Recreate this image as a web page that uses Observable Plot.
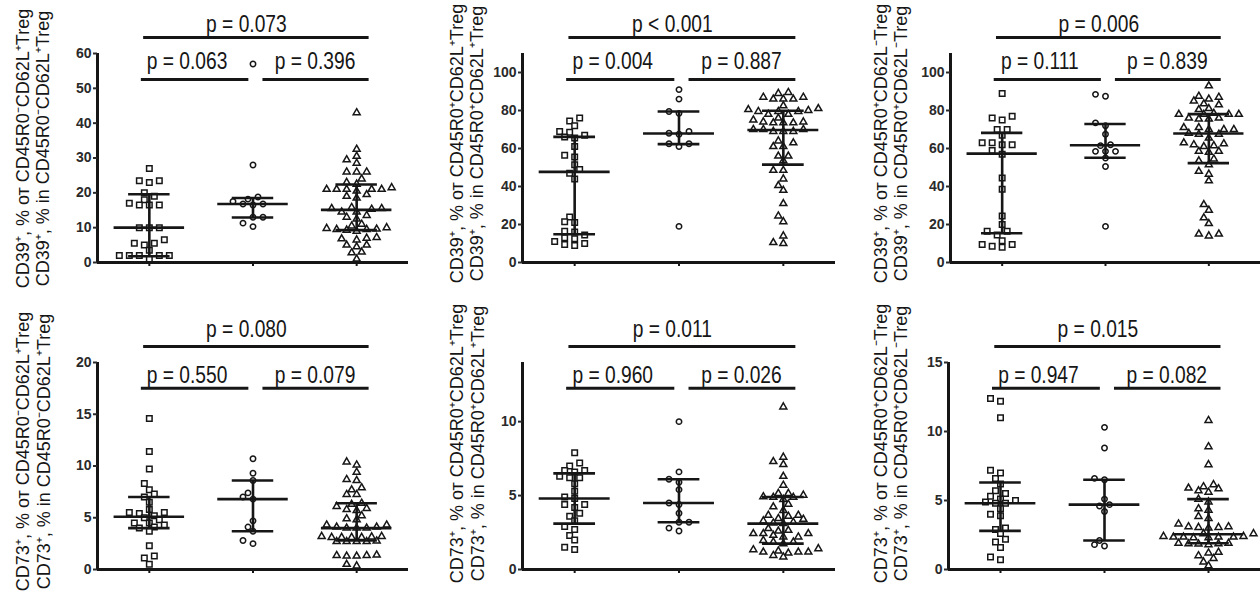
<!DOCTYPE html>
<html><head><meta charset="utf-8">
<script src="https://cdn.jsdelivr.net/npm/d3@7"></script>
<script src="https://cdn.jsdelivr.net/npm/@observablehq/plot@0.6"></script>
<style>
html,body{margin:0;padding:0;background:#fff;overflow:hidden;}
#grid{display:grid;grid-template-columns:420px 420px 420px;grid-template-rows:300px 299px;width:1260px;height:599px;overflow:hidden;}
#grid > div{width:420px;overflow:hidden;}
svg{display:block;}
</style></head>
<body><div id="grid"></div>
<script>
// ---------- data ----------
const yLabels = [
  ["CD39⁺, % от CD45R0⁻CD62L⁺Treg", "CD39⁺, % in CD45R0⁻CD62L⁺Treg"],
  ["CD39⁺, % от CD45R0⁺CD62L⁺Treg", "CD39⁺, % in CD45R0⁺CD62L⁺Treg"],
  ["CD39⁺, % от CD45R0⁺CD62L⁻Treg", "CD39⁺, % in CD45R0⁺CD62L⁻Treg"],
  ["CD73⁺, % от CD45R0⁻CD62L⁺Treg", "CD73⁺, % in CD45R0⁻CD62L⁺Treg"],
  ["CD73⁺, % от CD45R0⁺CD62L⁺Treg", "CD73⁺, % in CD45R0⁺CD62L⁺Treg"],
  ["CD73⁺, % от CD45R0⁺CD62L⁻Treg", "CD73⁺, % in CD45R0⁺CD62L⁻Treg"]
];

// panel 1
const p1_g1 = [27, 23.5, 23, 23.5, 20, 19, 18, 17, 16.5, 16.5, 16.5, 10, 10, 10, 6.5, 5.5, 5.5, 5, 3.5, 2, 2, 2, 2, 2, 1];
const p1_g2 = [57, 28, 18.8, 17.5, 16.8, 16.5, 16.8, 18.2, 13, 13, 10.3, 11.3];
const p1_g3 = [43, 32.5, 30.5, 29.5, 28.5, 26, 26, 26, 24, 23, 22.5, 21, 21, 21, 21.5, 21, 20.5, 21, 19.5, 19, 18.5, 15.5, 14.5, 15.5, 15.8, 14.5, 15.3, 13, 13.5, 12.5, 11, 10.5, 9.8, 9.5, 9, 9.5, 9.3, 9.6, 10, 7.2, 6.8, 6.5, 7, 5, 4.5, 5, 3, 2.8, 1];
const p1_med = [10, 16.8, 15.1], p1_q1 = [1.8, 12.9, 9.3], p1_q3 = [19.6, 18.5, 22.4];
const p1_p = ["p = 0.063", "p = 0.396", "p = 0.073"];
const p1_ticks = [0, 10, 20, 30, 40, 50, 60];

// panel 2
const p2_g1 = [76, 74.5, 72, 69, 68.5, 67, 65.5, 66, 61, 56.5, 55.5, 51.5, 49, 47, 44, 24, 21, 21.5, 16, 16.5, 14.5, 12.5, 10, 9, 9.5, 11, 13];
const p2_g2 = [91, 86, 79.5, 78.5, 69, 67.5, 68, 62.5, 61, 62.5, 19];
const p2_g3 = [89.5, 87, 86, 86, 86, 87, 89, 80.5, 78, 79.5, 82.5, 79.5, 79.5, 80, 81, 78, 76, 74, 74, 73.5, 73.5, 73.5, 75, 70, 69, 69, 70, 69, 70, 63, 61, 61, 64, 56, 53.5, 56, 48.5, 48.5, 44, 40.5, 38, 31, 24.5, 21.5, 14, 10, 10.5];
const p2_med = [47.7, 67.9, 69.7], p2_q1 = [14.9, 62.3, 51.5], p2_q3 = [66.1, 79.5, 79.9];
const p2_p = ["p = 0.004", "p = 0.887", "p < 0.001"];
const p2_ticks = [0, 20, 40, 60, 80, 100];

// panel 3
const p3_g1 = [89, 77, 75, 76, 70, 67, 70, 62, 63, 62, 63, 59, 57, 44.5, 38.5, 24.5, 20, 16.5, 14.5, 16.5, 11.5, 9.5, 8, 8.5, 9.5];
const p3_g2 = [88.5, 87.5, 72, 73.5, 67.5, 62, 61.5, 58.5, 58.5, 58.5, 55, 50.5, 19];
const p3_g3 = [93, 87, 85, 86, 87.5, 83, 83.5, 80.5, 81, 78, 78, 78.5, 78, 78, 76, 75.5, 76, 75.5, 71, 70, 71, 70, 70, 67.5, 68, 67.5, 65.5, 62, 61.5, 63, 61, 62.5, 58.5, 58, 58.5, 53.5, 54.5, 51.5, 46.5, 48, 43, 30.5, 27.5, 23.5, 20.5, 15, 14, 15];
const p3_med = [57.3, 61.7, 67.9], p3_q1 = [15.4, 55.1, 52.3], p3_q3 = [68.2, 72.9, 78.1];
const p3_p = ["p = 0.111", "p = 0.839", "p = 0.006"];
const p3_ticks = [0, 20, 40, 60, 80, 100];

// panel 4
const p4_g1 = [14.6, 11.4, 9.7, 8.3, 7.7, 7.3, 7.0, 6.5, 5.8, 5.5, 5.4, 5.5, 5.2, 4.8, 5.0, 4.5, 4.5, 4.3, 4.0, 4.1, 3.7, 2.3, 1.3, 1.1, 0.5];
const p4_g2 = [10.7, 9.3, 8.6, 7.4, 7.0, 6.8, 4.7, 4.1, 3.7, 2.5, 2.8];
const p4_g3 = [10.1, 10.4, 9.4, 8.7, 8.6, 7.9, 7.7, 7.25, 7.25, 6.4, 6.1, 5.9, 5.7, 5.8, 6.3, 5.2, 4.9, 4.8, 4.3, 4.1, 4.0, 4.0, 4.1, 4.0, 4.3, 3.1, 3.1, 3.15, 3.2, 3.1, 3.1, 3.2, 2.7, 2.7, 2.7, 2.7, 2.75, 1.35, 1.3, 1.35, 1.3, 1.4, 0.35, 0.5];
const p4_med = [5.1, 6.8, 4.0], p4_q1 = [4.0, 3.7, 2.8], p4_q3 = [7.0, 8.6, 6.4];
const p4_p = ["p = 0.550", "p = 0.079", "p = 0.080"];
const p4_ticks = [0, 5, 10, 15, 20];

// panel 5
const p5_g1 = [7.9, 7.2, 7.0, 6.6, 6.7, 6.7, 6.3, 6.2, 5.8, 6.2, 5.3, 4.9, 4.8, 4.4, 4.4, 4.2, 3.8, 3.6, 3.3, 2.9, 2.7, 2.3, 2.0, 1.5, 1.35];
const p5_g2 = [10.0, 6.6, 6.1, 5.9, 5.4, 4.5, 4.4, 3.8, 3.2, 3.2, 2.8, 2.6];
const p5_g3 = [11.0, 7.6, 7.3, 7.1, 6.3, 5.7, 5.15, 4.88, 4.74, 4.92, 4.88, 5.03, 5.15, 4.24, 4.42, 4.0, 3.67, 3.67, 3.45, 3.29, 3.11, 3.15, 3.2, 3.4, 3.6, 2.65, 2.43, 2.31, 2.77, 2.43, 2.43, 2.6, 2.2, 1.86, 1.75, 1.86, 2.2, 1.97, 1.34, 1.18, 1.11, 1.41, 1.25, 1.18, 1.18, 0.85, 0.95];
const p5_med = [4.8, 4.5, 3.1], p5_q1 = [3.1, 3.2, 1.75], p5_q3 = [6.5, 6.1, 4.9];
const p5_p = ["p = 0.960", "p = 0.026", "p = 0.011"];
const p5_ticks = [0, 5, 10];

// panel 6
const p6_g1 = [12.2, 12.4, 11.0, 7.2, 6.6, 7.0, 5.7, 5.5, 6.2, 5.3, 5.1, 4.9, 4.8, 4.8, 4.4, 5.0, 4.0, 3.9, 2.9, 2.6, 3.0, 2.0, 1.6, 2.2, 0.7, 0.9];
const p6_g2 = [10.3, 8.8, 6.6, 6.5, 5.1, 4.6, 4.2, 4.7, 2.1, 1.7, 1.8];
const p6_g3 = [10.8, 8.9, 7.6, 6.15, 6.0, 5.9, 5.85, 5.7, 5.6, 5.1, 4.9, 4.4, 4.3, 3.85, 3.7, 3.3, 3.05, 3.1, 3.0, 3.05, 3.1, 2.6, 2.6, 2.35, 2.3, 2.4, 2.35, 2.35, 2.3, 2.4, 2.35, 1.86, 1.9, 1.85, 1.86, 1.8, 1.9, 1.25, 1.2, 1.0, 0.8, 0.55, 0.27];
const p6_med = [4.8, 4.7, 2.55], p6_q1 = [2.8, 2.1, 1.9], p6_q3 = [6.3, 6.5, 5.1];
const p6_p = ["p = 0.947", "p = 0.082", "p = 0.015"];
const p6_ticks = [0, 5, 10, 15];

const yMax = [60, 110, 110, 20, 14, 15];

// ---------- layout ----------
const INK = "#161616";
const PFONT = "'Liberation Sans Narrow','Arial Narrow','Liberation Sans',Arial,sans-serif";

// Prism-like column scatter: each point takes the free spot nearest the group centre
function packOffsets(values, pxPerUnit, stepPx, dist) {
  const order = d3.range(values.length).sort((a, b) => values[a] - values[b]);
  const tries = [0];
  for (let k = 1; k <= 14; k++) tries.push(-k, k);
  const placed = [];
  const off = new Array(values.length).fill(0);
  for (const i of order) {
    const y = values[i] * pxPerUnit;
    for (const k of tries) {
      const x = k * stepPx;
      if (placed.every((p) => (p.x - x) ** 2 + (p.y - y) ** 2 >= dist * dist)) {
        placed.push({x, y}); off[i] = x; break;
      }
    }
  }
  return off;
}

const panels = [
  {groups: [p1_g1, p1_g2, p1_g3], med: p1_med, q1: p1_q1, q3: p1_q3, pv: p1_p, ticks: p1_ticks, ml: 97, mr: 12, row: 0, lab: [23, 43], labC: 148},
  {groups: [p2_g1, p2_g2, p2_g3], med: p2_med, q1: p2_q1, q3: p2_q3, pv: p2_p, ticks: p2_ticks, ml: 102, mr: 5, row: 0, lab: [37, 57], labC: 143},
  {groups: [p3_g1, p3_g2, p3_g3], med: p3_med, q1: p3_q1, q3: p3_q3, pv: p3_p, ticks: p3_ticks, ml: 110, mr: 0, row: 0, lab: [41, 61], labC: 143},
  {groups: [p4_g1, p4_g2, p4_g3], med: p4_med, q1: p4_q1, q3: p4_q3, pv: p4_p, ticks: p4_ticks, ml: 97, mr: 12, row: 1, lab: [23, 44], labC: 151},
  {groups: [p5_g1, p5_g2, p5_g3], med: p5_med, q1: p5_q1, q3: p5_q3, pv: p5_p, ticks: p5_ticks, ml: 102, mr: 5, row: 1, lab: [37, 58], labC: 143},
  {groups: [p6_g1, p6_g2, p6_g3], med: p6_med, q1: p6_q1, q3: p6_q3, pv: p6_p, ticks: p6_ticks, ml: 108, mr: 0, row: 1, lab: [41, 61], labC: 143}
];

const grid = document.getElementById("grid");
const symbols = ["square", "circle", "triangle"];
const radii = [3.1, 2.7, 2.6];

panels.forEach((P, k) => {
  const W = 420;
  const H = P.row === 0 ? 300 : 299;
  const mt = P.row === 0 ? 53 : 62;
  const mb = P.row === 0 ? 38 : 30;
  const ymax = yMax[k];
  const pxPerUnit = (H - mt - mb) / ymax;
  const unitPx = (W - P.ml - P.mr) / 3;

  const pts = [];
  P.groups.forEach((vals, gi) => {
    const off = packOffsets(vals, pxPerUnit, 5, 6.3);
    vals.forEach((v, i) => pts.push({g: gi, x: gi + 1 + off[i] / unitPx, v}));
  });
  const summ = [0, 1, 2].map((i) => ({g: i + 1, med: P.med[i], q1: P.q1[i], q3: P.q3[i]}));

  const lowY = ymax * 0.876, topY = ymax * 1.077;
  const leftBr = [{x1: 1 - 0.077, x2: 2 - 0.04, y: lowY, t: P.pv[0]}];
  const rightBr = [{x1: 2 + 0.096, x2: 3 + 0.12, y: lowY, t: P.pv[1]}];
  const topBr = [{x1: 1 - 0.055, x2: 3 + 0.12, y: topY, t: P.pv[2]}];
  const lowGap = P.row === 0 ? 10.5 : 5.5;
  const topGap = P.row === 0 ? 5.5 : 10;
  const frameMid = (mt + (H - mb)) / 2;
  const mid = (d) => (d.x1 + d.x2) / 2;
  const ptext = (data, dx, gap) => Plot.text(data, {x: mid, y: "y", text: "t", lineAnchor: "bottom", dx, dy: -gap, fontSize: 24, fontFamily: PFONT, fill: INK});

  const marks = [];
  symbols.forEach((sym, gi) => {
    marks.push(Plot.dot(pts.filter((d) => d.g === gi), {
      x: "x", y: "v", symbol: () => sym, r: radii[gi],
      stroke: INK, strokeWidth: 1.5, fill: "white"
    }));
  });
  marks.push(
    Plot.ruleY(summ, {x1: (d) => d.g - 0.34, x2: (d) => d.g + 0.34, y: "med", stroke: INK, strokeWidth: 2.6}),
    Plot.ruleY(summ, {x1: (d) => d.g - 0.2, x2: (d) => d.g + 0.2, y: "q1", stroke: INK, strokeWidth: 2.6}),
    Plot.ruleY(summ, {x1: (d) => d.g - 0.2, x2: (d) => d.g + 0.2, y: "q3", stroke: INK, strokeWidth: 2.6}),
    Plot.ruleX(summ, {x: "g", y1: "q1", y2: "q3", stroke: INK, strokeWidth: 2.6}),
    Plot.ruleX([0.5], {y1: 0, y2: ymax, stroke: INK, strokeWidth: 3}),
    Plot.ruleY([0], {x1: 0.5, x2: 3.5, stroke: INK, strokeWidth: 3}),
    Plot.axisY({ticks: P.ticks, tickSize: 4, tickPadding: 2, label: null, fontSize: 14, fontWeight: "bold", color: "#2a2a2a", strokeWidth: 2}),
    Plot.axisX({ticks: [1, 2, 3], tickSize: 4, tickFormat: () => "", label: null, color: INK, strokeWidth: 2}),
    Plot.ruleY([...leftBr, ...rightBr, ...topBr], {x1: "x1", x2: "x2", y: "y", stroke: INK, strokeWidth: 3}),
    ptext(leftBr, -8, lowGap),
    ptext(rightBr, -1, lowGap),
    ptext(topBr, -10, topGap),
    Plot.text([yLabels[k][0]], {frameAnchor: "left", text: (d) => d, rotate: -90, dx: P.lab[0] - P.ml, dy: P.labC - frameMid, fontSize: 18, fill: INK, lineAnchor: "middle", textAnchor: "middle"}),
    Plot.text([yLabels[k][1]], {frameAnchor: "left", text: (d) => d, rotate: -90, dx: P.lab[1] - P.ml, dy: P.labC - frameMid, fontSize: 18, fill: INK, lineAnchor: "middle", textAnchor: "middle"})
  );

  const chart = Plot.plot({
    width: W, height: H,
    marginLeft: P.ml, marginRight: P.mr, marginTop: mt, marginBottom: mb,
    x: {domain: [0.5, 3.5], axis: null},
    y: {domain: [0, ymax], axis: null},
    style: {fontFamily: "'Liberation Sans', Arial, sans-serif", background: "white", overflow: "visible"},
    marks
  });
  // narrow the p-value lettering (the reference uses a condensed face)
  chart.querySelectorAll("text").forEach((t) => {
    if (/^p [=<]/.test(t.textContent)) {
      const tr = t.getAttribute("transform");
      if (tr) {
        t.setAttribute("transform", tr + " scale(0.8,1)");
      } else {
        const x = +t.getAttribute("x") || 0, y = +t.getAttribute("y") || 0;
        t.setAttribute("transform", `translate(${x},${y}) scale(0.8,1)`);
        t.setAttribute("x", 0); t.setAttribute("y", 0);
      }
    }
  });
  const cell = document.createElement("div");
  cell.appendChild(chart);
  grid.appendChild(cell);
});
</script>
</body></html>
